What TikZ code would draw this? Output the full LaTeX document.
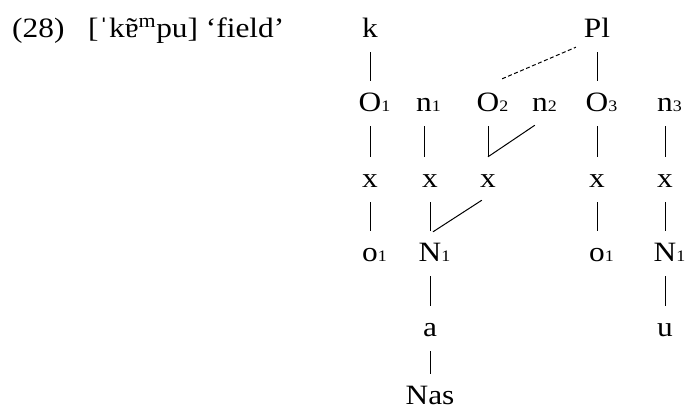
\documentclass[tikz,border=0pt]{standalone}
\usepackage{fontspec}
\setmainfont{Liberation Serif}[FakeStretch=1.12]
\usetikzlibrary{calc}
\newcommand\idx[1]{\rlap{\fontsize{16}{16}\selectfont #1}}
\newcommand\nasal[1]{\ooalign{#1\cr\hidewidth ˜\hidewidth\cr}}

\begin{document}
\begin{tikzpicture}[x=1pt,y=-1pt,
  seg/.style={anchor=base,inner sep=0pt,text height=19pt,text depth=0pt,
    font=\fontsize{28}{32}\selectfont},
  bar/.style={line width=1pt,shorten <=15pt,shorten >=11pt},
  link/.style={line width=1pt},
  dlink/.style={line width=1pt,dash pattern=on 4pt off 2.5pt}]
  \useasboundingbox (0,0) rectangle (685,410);
  % example number and gloss
  \node[seg,anchor=base west] (num) at (12,37) {(28)};
  \node[seg,anchor=base west] (gloss) at (88,37) {[ˈk\nasal{ɐ}\textsuperscript{m}pu] ‘field’};
  % melody
  \node[seg] (k) at (370,37) {k};
  \node[seg] (Pl) at (597,37) {Pl};
  % onsets and nuclei
  \node[seg] (O1) at (370,111) {O\idx{1}};
  \node[seg] (n1) at (424,111) {n\idx{1}};
  \node[seg] (O2) at (488,111) {O\idx{2}};
  \node[seg] (n2) at (540,111) {n\idx{2}};
  \node[seg] (O3) at (597,111) {O\idx{3}};
  \node[seg] (n3) at (665,111) {n\idx{3}};
  % skeleton
  \node[seg] (xA) at (370,187) {x};
  \node[seg] (xB) at (430,187) {x};
  \node[seg] (xC) at (488,187) {x};
  \node[seg] (xD) at (597,187) {x};
  \node[seg] (xE) at (665,187) {x};
  % elements
  \node[seg] (oA) at (370,261) {o\idx{1}};
  \node[seg] (NB) at (430,261) {N\idx{1}};
  \node[seg] (oD) at (597,261) {o\idx{1}};
  \node[seg] (NE) at (665,261) {N\idx{1}};
  \node[seg] (a) at (430,336) {a};
  \node[seg] (u) at (665,336) {u};
  \node[seg] (Nas) at (430,404) {Nas};
  % association lines
  \foreach \u/\v in {k/O1,Pl/O3,O1/xA,n1/xB,O2/xC,O3/xD,n3/xE,
                     xA/oA,xB/NB,xD/oD,xE/NE,NB/a,NE/u,a/Nas}
    \draw[bar] (\u.south) -- (\u.south |- \v.north);
  \draw[dlink] ([shift={(2.6,-13)}]O2.north east) -- ([shift={(-7.8,10)}]Pl.south west);
  \draw[link] ([shift={(2.9,14)}]n2.south west) -- ([shift={(0,-11)}]xC.north);
  \draw[link] ([shift={(1.9,13)}]xC.south west) -- ([shift={(3,-10)}]NB.north);
\end{tikzpicture}
\end{document}
